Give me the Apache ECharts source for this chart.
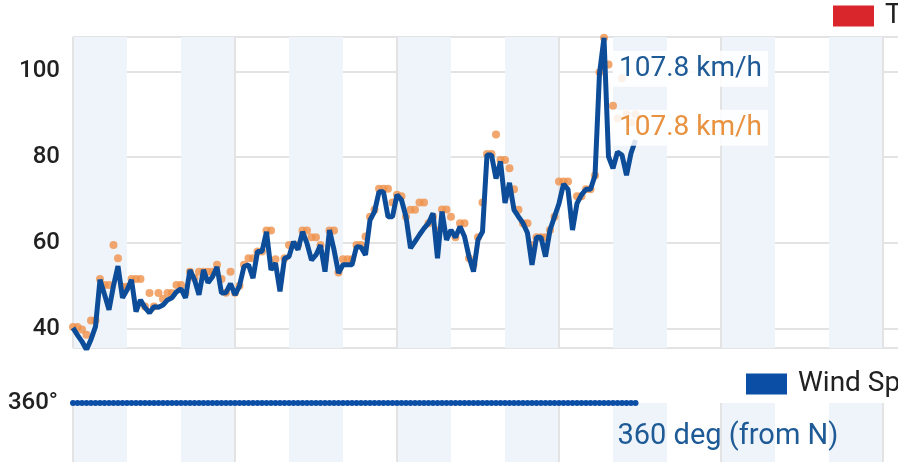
<!DOCTYPE html>
<html>
<head>
<meta charset="utf-8">
<script src="https://cdn.jsdelivr.net/npm/echarts@6/dist/echarts.min.js"></script>
<style>
html, body { margin: 0; padding: 0; overflow: hidden; background: #fff; }
#chart { width: 1000px; height: 760px; }
</style>
</head>
<body>
<div id="chart"></div>
<script>
// x categories: 5-minute steps, 17 hourly bands (plot is cropped on the right)
const times = [];
for (let m = 0; m <= 17 * 60; m += 5) {
  times.push(String(Math.floor(m / 60)).padStart(2, "0") + ":" + String(m % 60).padStart(2, "0"));
}

// wind speed km/h (blue line)
const speed = [
  40.2, 38.5, 37, 35.1, 37.5, 40.5, 51.4, 48, 44.4, 50, 54.6, 47.2, 49, 51.4, 44, 46.7,
  44.9, 43.7, 45.1, 45, 45.5, 46.7, 47.2, 48.6, 49.3, 47.2, 53.7, 51.4, 47.9, 53.7, 50.7, 52.1,
  54.4, 48.3, 48.4, 50.5, 47.9, 50, 54.5, 54.9, 51.8, 58, 58, 62.6, 53.7, 55.3, 48.7, 56.4,
  56.8, 60.3, 58.4, 62.6, 59.9, 56, 57.2, 59.5, 53.3, 63, 58.4, 53, 54.9, 54.9, 54.9, 59.1,
  59, 57.2, 65.3, 67.3, 71.9, 71.9, 66.1, 66.1, 71.2, 70, 66.1, 58.8, 60.3, 61.9, 63.4, 64.6,
  66.9, 56.4, 67.3, 60.7, 63, 61.3, 63.8, 61.5, 56.8, 53.3, 60.7, 62.6, 80.5, 80.5, 75, 79,
  69.3, 74, 67.7, 66.1, 64.6, 62.3, 54.9, 61.3, 61.3, 56.8, 63, 66.1, 69.2, 73.7, 72.5, 63,
  69.2, 71.2, 72.5, 72.5, 75.7, 99.5, 107.8, 80.1, 77.4, 81.2, 80.5, 75.8, 80.9, 84
];

// gusts km/h (orange dots)
const gust = [
  40.4, 40.4, 39.8, 38.6, 41.9, 41.9, 51.6, 50.2, 50.2, 59.5, 56.4, 49.8, 49.8, 51.6, 51.6, 51.6,
  45.2, 48.3, 45.2, 48.3, 46.9, 48.3, 48.3, 50.2, 50.2, 48.3, 53.3, 51.8, 53.3, 53.3, 53.3, 53.3,
  54.9, 51.6, 48.4, 53.3, 48.4, 50, 54.9, 56.4, 56.4, 58, 58, 62.9, 62.9, 56.2, 51.6, 56.4,
  59.5, 59.5, 59.5, 62.9, 62.9, 61.3, 61.3, 59.5, 56.2, 62.9, 62.9, 53.1, 56.2, 56.2, 56.2, 59.5,
  59.5, 61.5, 66.1, 67.7, 72.6, 72.6, 72.6, 69.4, 71.2, 70.9, 66.1, 67.7, 67.7, 69.4, 69.4, 64.6,
  66.1, 62.9, 67.8, 67.8, 66.1, 61.3, 64.6, 64.6, 56.4, 54.9, 61.3, 69.4, 80.7, 80.7, 85.3, 79.3,
  79.3, 77.4, 72.5, 67.7, 64.6, 64.6, 59.5, 61.3, 61.3, 61.3, 63, 66.1, 74.3, 74.3, 74.3, 66,
  70.9, 70.9, 72.5, 72.5, 75.7, 99.8, 107.8, 101.6, 92, 89, 98.4, 90, 88, 90
];

// wind direction, degrees from N
const direction = [
  360, 360, 360, 360, 360, 360, 360, 360, 360, 360, 360, 360, 360, 360, 360, 360, 360, 360,
  360, 360, 360, 360, 360, 360, 360, 360, 360, 360, 360, 360, 360, 360, 360, 360, 360, 360,
  360, 360, 360, 360, 360, 360, 360, 360, 360, 360, 360, 360, 360, 360, 360, 360, 360, 360,
  360, 360, 360, 360, 360, 360, 360, 360, 360, 360, 360, 360, 360, 360, 360, 360, 360, 360,
  360, 360, 360, 360, 360, 360, 360, 360, 360, 360, 360, 360, 360, 360, 360, 360, 360, 360,
  360, 360, 360, 360, 360, 360, 360, 360, 360, 360, 360, 360, 360, 360, 360, 360, 360, 360,
  360, 360, 360, 360, 360, 360, 360, 360, 360, 360, 360, 360, 360, 360, 360, 360, 360, 360
];

const font = "Roboto";
const gridColor = "#e3e3e3";

function xAxisFor(gridIndex) {
  return {
    type: "category",
    gridIndex: gridIndex,
    data: times,
    boundaryGap: false,
    axisLine: { show: false },
    axisTick: { show: false },
    axisLabel: { show: false },
    splitLine: { show: true, interval: 35, lineStyle: { color: gridColor, width: 2 } },
    splitArea: { show: true, interval: 11, areaStyle: { color: ["#eff4fa", "rgba(255,255,255,0)"] } }
  };
}

function maxLabel(color, dy) {
  return {
    symbolSize: 0,
    data: [{ type: "max" }],
    label: {
      show: true,
      position: "right",
      offset: [4, dy],
      formatter: p => p.value + " km/h",
      color: color,
      fontSize: 28,
      fontFamily: font,
      backgroundColor: "rgba(255,255,255,0.85)",
      padding: [4, 6]
    }
  };
}

const chart = echarts.init(document.getElementById("chart"));
chart.setOption({
  animation: false,
  legend: [
    {
      data: ["Temperature"], left: 828, top: -3, icon: "rect",
      itemWidth: 41, itemHeight: 21,
      textStyle: { fontSize: 28, fontFamily: font, color: "#212121", padding: [0, 0, 0, 6] }
    },
    {
      data: ["Wind Speed Direction"], left: 741, top: 365, icon: "rect",
      itemWidth: 41, itemHeight: 21,
      textStyle: { fontSize: 28, fontFamily: font, color: "#212121", padding: [0, 0, 0, 6] }
    }
  ],
  grid: [
    { left: 73, top: 37, width: 918, height: 311 },
    { left: 73, top: 403, width: 918, height: 300 }
  ],
  xAxis: [xAxisFor(0), xAxisFor(1)],
  yAxis: [
    {
      type: "value", gridIndex: 0, min: 35.5, max: 108, splitNumber: 4,
      axisLine: { show: false }, axisTick: { show: false },
      axisLabel: {
        fontSize: 24, fontWeight: 500, fontFamily: font, color: "#212121", margin: 13,
        padding: [5, 0, 0, 0], showMinLabel: false, showMaxLabel: false
      },
      splitLine: { lineStyle: { color: gridColor, width: 2 } }
    },
    {
      type: "value", gridIndex: 1, min: 0, max: 360, interval: 90,
      axisLine: { show: false }, axisTick: { show: false },
      axisLabel: {
        fontSize: 24, fontWeight: 500, fontFamily: font, color: "#212121", margin: 15,
        padding: [5, 0, 0, 0], formatter: "{value}°"
      },
      splitLine: { show: false }
    }
  ],
  series: [
    {
      name: "Wind Speed", type: "line", xAxisIndex: 0, yAxisIndex: 0,
      data: speed, showSymbol: false, color: "#0c4c98",
      lineStyle: { width: 5, color: "#0c4c98" },
      markPoint: maxLabel("#1d5a96", 31)
    },
    {
      name: "Gust", type: "scatter", xAxisIndex: 0, yAxisIndex: 0,
      data: gust, symbolSize: 8, itemStyle: { color: "#ef914a" },
      markPoint: maxLabel("#e8913f", 90)
    },
    {
      name: "Temperature", type: "line", xAxisIndex: 0, yAxisIndex: 0,
      data: [], color: "#d9252c"
    },
    {
      name: "Wind Speed Direction", type: "line", xAxisIndex: 1, yAxisIndex: 1,
      data: direction, color: "#0b4ea6",
      symbol: "circle", symbolSize: 6, showSymbol: true, showAllSymbol: true,
      itemStyle: { color: "#0b4ea6" },
      lineStyle: { width: 3, color: "#0b4ea6" },
      endLabel: {
        show: true,
        formatter: p => p.value + " deg (from N)",
        offset: [-26, 34],
        color: "#1d5a96",
        fontSize: 29,
        fontFamily: font
      }
    }
  ]
});
</script>
</body>
</html>
